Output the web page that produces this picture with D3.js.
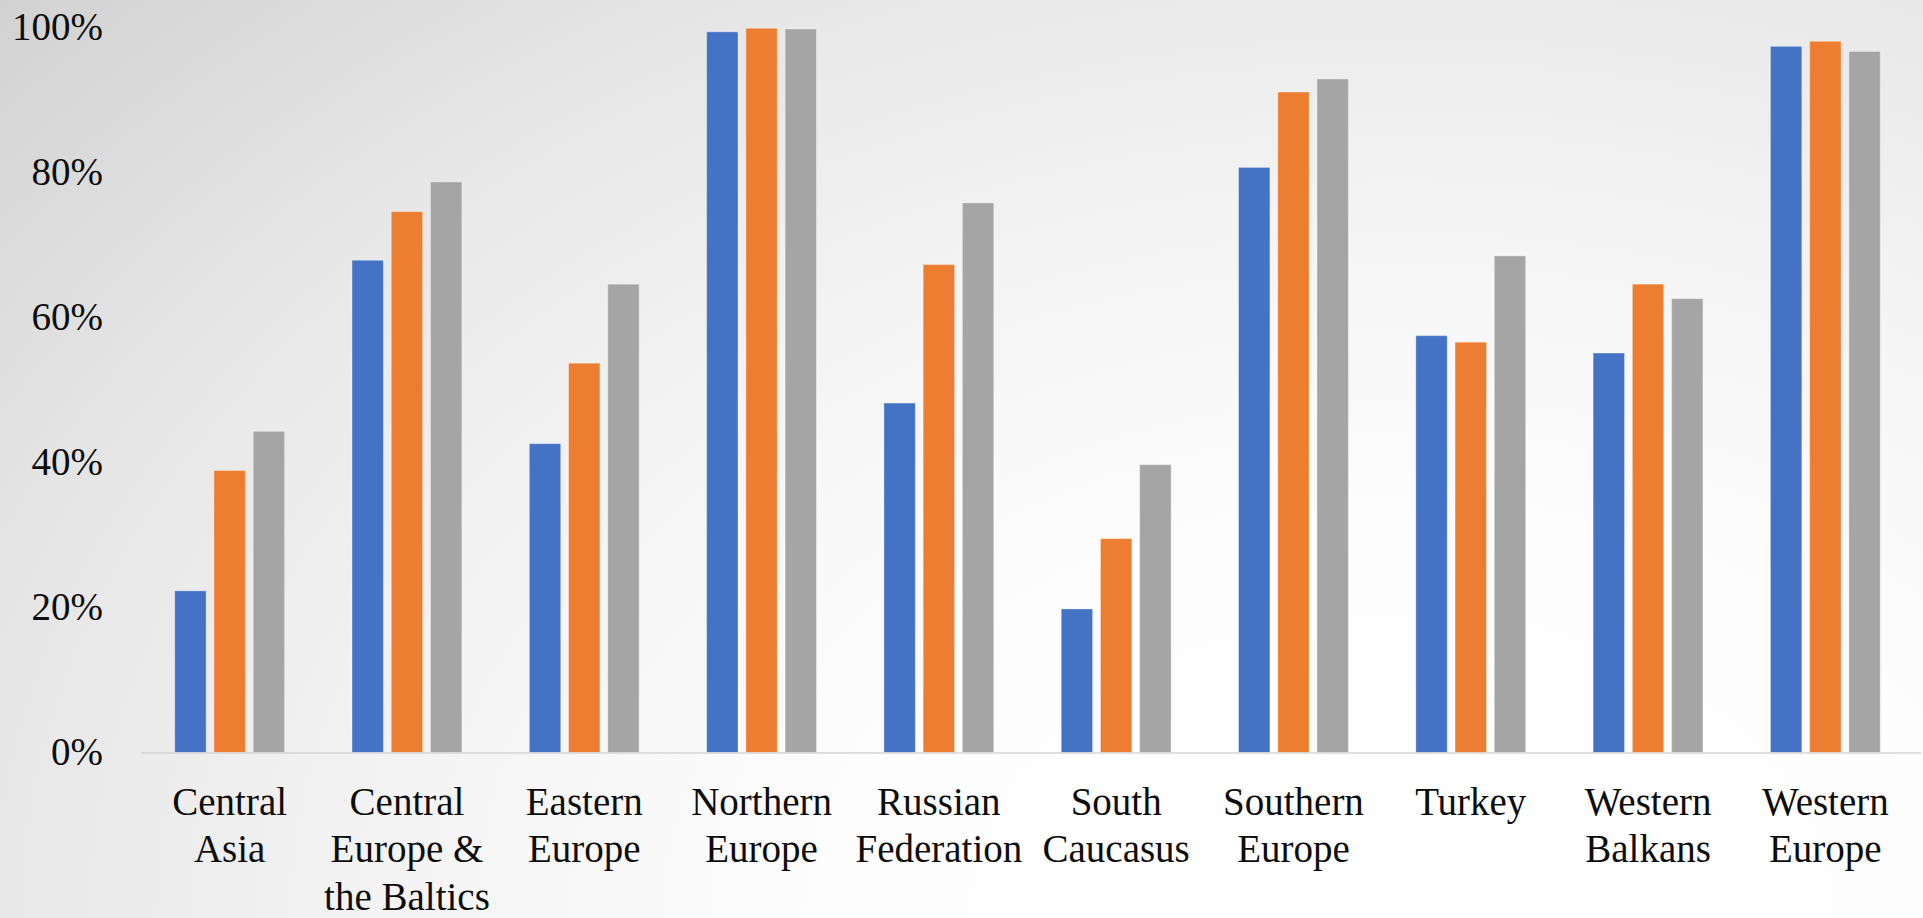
<!DOCTYPE html>
<html>
<head>
<meta charset="utf-8">
<script src="https://cdn.jsdelivr.net/npm/d3@7"></script>
<style>
  html, body { margin: 0; padding: 0; overflow: hidden; background: #ffffff; }
  svg { display: block; }
</style>
</head>
<body>
<svg id="chart" width="1923" height="918" font-family="Liberation Serif"></svg>
<script>
// Regions along the category axis (line breaks mark wrapped labels)
const categories = [
  "Central\nAsia",
  "Central\nEurope &\nthe Baltics",
  "Eastern\nEurope",
  "Northern\nEurope",
  "Russian\nFederation",
  "South\nCaucasus",
  "Southern\nEurope",
  "Turkey",
  "Western\nBalkans",
  "Western\nEurope"
];

// Three series, shares per region
const seriesNames = ["s1", "s2", "s3"];
const series1 = [0.223, 0.679, 0.426, 0.994, 0.482, 0.198, 0.807, 0.575, 0.551, 0.974];
const series2 = [0.389, 0.746, 0.537, 0.999, 0.673, 0.295, 0.911, 0.566, 0.646, 0.981];
const series3 = [0.443, 0.787, 0.646, 0.998, 0.758, 0.397, 0.929, 0.685, 0.626, 0.967];
const seriesColors = ["#4472C4", "#ED7D31", "#A5A5A5"];

// Value axis ticks
const yTicks = [0, 0.2, 0.4, 0.6, 0.8, 1.0];

const FONT = "Liberation Serif";
const W = 1923, H = 918;
const svg = d3.select("#chart");

// Soft grey background fading to white toward the lower right
const defs = svg.append("defs");
const grad = defs.append("radialGradient")
  .attr("id", "bg")
  .attr("gradientUnits", "userSpaceOnUse")
  .attr("cx", 0).attr("cy", 0).attr("r", 1909)
  .attr("gradientTransform", "translate(1400,918) scale(1,0.707)");
[[0, "#ffffff"], [0.3, "#fdfdfd"], [0.52, "#f4f4f4"], [0.73, "#e8e8e8"], [1, "#d2d2d2"]]
  .forEach(([o, c]) => grad.append("stop").attr("offset", o).attr("stop-color", c));
svg.append("rect").attr("width", W).attr("height", H).attr("fill", "url(#bg)");

const plotLeft = 141, plotRight = 1914, axisEnd = 1921;
const y0 = 752.5, y1 = 27.5;

const x0 = d3.scaleBand().domain(categories).range([plotLeft, plotRight]).padding(0);
const x1 = d3.scaleBand().domain(seriesNames).range([0, x0.bandwidth()])
  .paddingInner(0.2).paddingOuter(0.86);
const y = d3.scaleLinear().domain([0, 1]).range([y0, y1]);

const data = categories.map((c, i) => ({
  cat: c,
  vals: [series1[i], series2[i], series3[i]]
}));

// Bars
const groups = svg.append("g").selectAll("g")
  .data(data).join("g")
  .attr("transform", d => `translate(${x0(d.cat)},0)`);

groups.selectAll("rect")
  .data(d => d.vals.map((v, k) => ({ key: seriesNames[k], v, k })))
  .join("rect")
  .attr("x", d => x1(d.key))
  .attr("width", x1.bandwidth())
  .attr("y", d => y(d.v))
  .attr("height", d => y(0) - y(d.v))
  .attr("fill", d => seriesColors[d.k])
  .attr("stroke", "rgba(255,255,255,0.35)")
  .attr("stroke-width", 1);

// Category axis
const xAxis = svg.append("g")
  .attr("transform", `translate(0,${y0})`)
  .call(d3.axisBottom(x0).tickSize(0).tickFormat(""));
xAxis.attr("font-family", FONT).attr("font-size", 39);
xAxis.select(".domain").remove();
svg.append("line")
  .attr("x1", plotLeft).attr("x2", axisEnd)
  .attr("y1", y0 + 0.5).attr("y2", y0 + 0.5)
  .attr("stroke", "#d4d4d4").attr("stroke-width", 1.5);

xAxis.selectAll(".tick text")
  .attr("y", 0).attr("dy", null)
  .attr("font-family", FONT)
  .attr("font-size", 39)
  .attr("fill", "#0d0d0d")
  .each(function(d) {
    const t = d3.select(this);
    d.split("\n").forEach((line, i) => {
      t.append("tspan")
        .attr("x", 0)
        .attr("y", 62 + i * 47.5)
        .attr("font-family", FONT)
        .text(line);
    });
  });

// Value axis
const yAxis = svg.append("g")
  .attr("transform", `translate(${plotLeft},0)`)
  .call(d3.axisLeft(y).tickValues(yTicks).tickFormat(d3.format(".0%")).tickSize(0).tickPadding(38));
yAxis.attr("font-family", FONT).attr("font-size", 39);
yAxis.select(".domain").remove();
yAxis.selectAll(".tick text")
  .attr("font-family", FONT)
  .attr("font-size", 39)
  .attr("fill", "#0d0d0d");
</script>
</body>
</html>
